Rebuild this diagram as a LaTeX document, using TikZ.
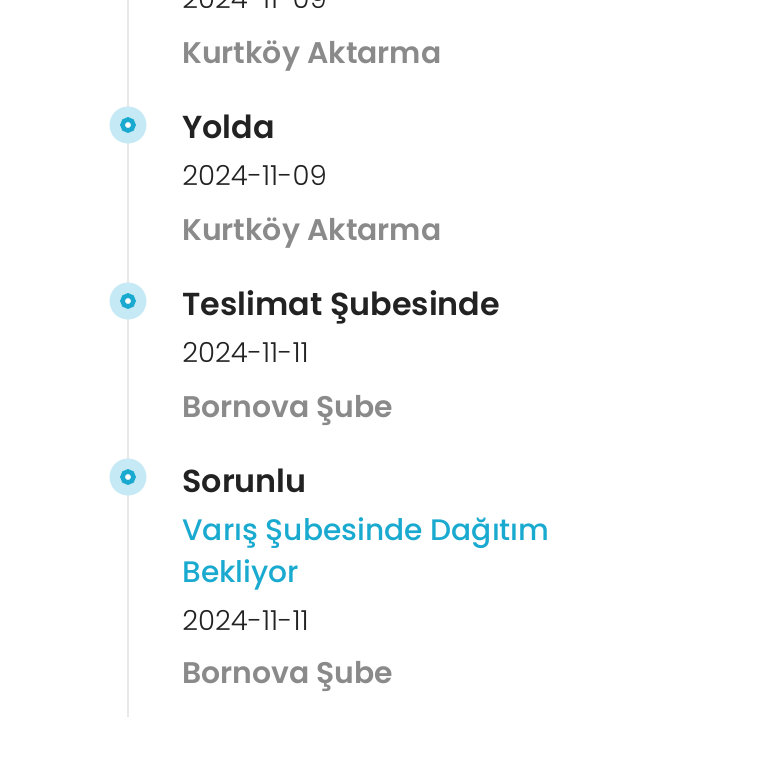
\documentclass[tikz,border=0pt]{standalone}
\usepackage{fontspec}
\setmainfont{Poppins}
\newfontfamily\semibd{Poppins SemiBold}
\newfontfamily\mediumface{Poppins Medium}
\newfontfamily\lightface{Poppins Light}
\usepackage{tikz}
\usetikzlibrary{positioning}
\definecolor{trackgrey}{RGB}{232,232,232}
\definecolor{darktext}{RGB}{34,34,34}
\definecolor{greytext}{RGB}{138,138,138}
\definecolor{statusblue}{RGB}{26,170,208}
\definecolor{haloblue}{RGB}{198,234,245}
\tikzstyle{track} = [
    draw=trackgrey,
    line width=1.1pt
]
\tikzstyle{halo} = [
    circle,
    minimum size=0.74cm,
    inner sep=0pt,
    fill=haloblue
]
\tikzstyle{ring} = [
    circle,
    minimum size=0.22cm,
    inner sep=0pt,
    draw=statusblue,
    line width=2.6pt,
    fill=white
]
\tikzstyle{status} = [
    anchor=base west,
    inner sep=0pt,
    text=darktext,
    font=\fontsize{18.1}{21}\semibd
]
\tikzstyle{datetext} = [
    anchor=base west,
    inner sep=0pt,
    text=darktext,
    font=\fontsize{15.7}{18}\lightface
]
\tikzstyle{branch} = [
    anchor=base west,
    inner sep=0pt,
    text=greytext,
    font=\fontsize{17}{19}\semibd
]
\tikzstyle{note} = [
    anchor=base west,
    inner sep=0pt,
    text=statusblue,
    font=\fontsize{16.9}{19}\mediumface
]

\begin{document}
\begin{tikzpicture}[x=0.02cm, y=-0.02cm]
        \useasboundingbox (0,0) rectangle (768,768);

        % Timeline
        \coordinate (top) at (128,0);
        \coordinate (bottom) at (128,717);
        \draw[track] (top) -- (bottom);

        % Previous step (cut off)
        \node[datetext] (d0) at (182,8) {2024-11-09};
        \node[branch] (b0) at (182,63) {Kurtköy Aktarma};

        % Yolda
        \node[halo] (h1) at (128,125) {};
        \node[ring] (r1) at (h1) {};
        \node[status] (s1) at (182,138) {Yolda};
        \node[datetext] (d1) at (182,185) {2024-11-09};
        \node[branch] (b1) at (182,240) {Kurtköy Aktarma};

        % Teslimat Subesinde
        \node[halo] (h2) at (128,301) {};
        \node[ring] (r2) at (h2) {};
        \node[status] (s2) at (182,315) {Teslimat Şubesinde};
        \node[datetext] (d2) at (182,362) {2024-11-11};
        \node[branch] (b2) at (182,417) {Bornova Şube};

        % Sorunlu
        \node[halo] (h3) at (128,477) {};
        \node[ring] (r3) at (h3) {};
        \node[status] (s3) at (182,492) {Sorunlu};
        \node[note] (n3) at (182,540) {Varış Şubesinde Dağıtım};
        \node[note] (n3b) at (182,582) {Bekliyor};
        \node[datetext] (d3) at (182,630) {2024-11-11};
        \node[branch] (b3) at (182,683) {Bornova Şube};
    \end{tikzpicture}
\end{document}
